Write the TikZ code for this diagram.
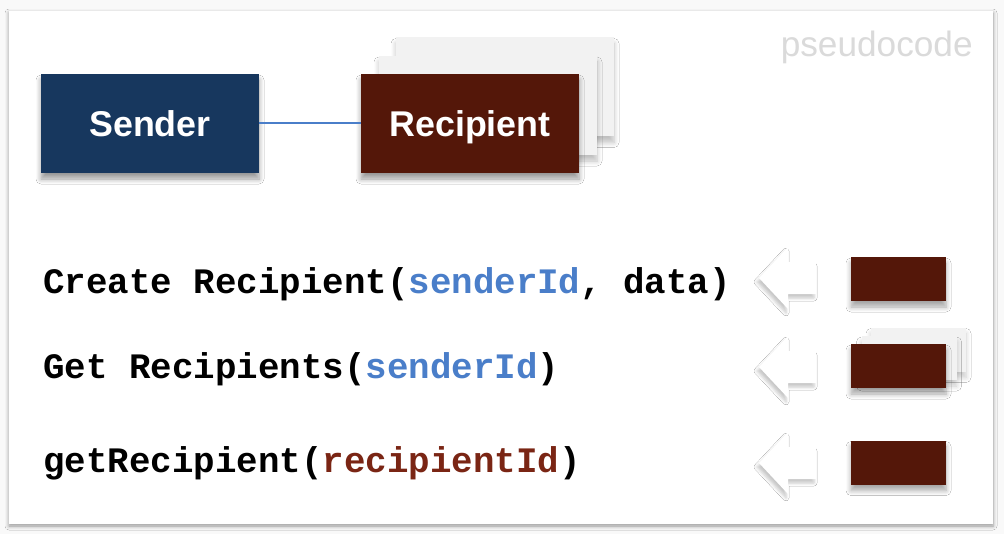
\documentclass[tikz,border=0pt]{standalone}
\usepackage{fontspec}
\setmainfont{Liberation Sans}
\newfontfamily\codefont{Liberation Mono}
\usetikzlibrary{shadows,shadows.blur}

\definecolor{senderblue}{HTML}{17375E}
\definecolor{recipbrown}{HTML}{541709}
\definecolor{idblue}{HTML}{4A7EC9}
\definecolor{idbrown}{HTML}{7A2514}
\definecolor{cardgray}{HTML}{F2F2F2}
\definecolor{notegray}{HTML}{DADADA}

\tikzset{
  softshadow/.style={blur shadow={shadow xshift=0pt, shadow yshift=-3pt,
    shadow blur radius=2.5pt, shadow blur steps=6, shadow opacity=#1}},
  entity/.style={minimum width=109pt, minimum height=49.5pt, inner sep=0pt,
    text height=13.5pt, text depth=0pt,
    text=white, font=\fontsize{17.9}{20}\selectfont\bfseries, softshadow=40},
  card/.style={minimum width=109pt, minimum height=49.5pt, inner sep=0pt, fill=cardgray,
    softshadow=25},
  minibox/.style={minimum width=47.5pt, minimum height=22pt, inner sep=0pt, fill=recipbrown,
    softshadow=35},
  minicard/.style={minimum width=47.5pt, minimum height=22pt, inner sep=0pt, fill=cardgray,
    softshadow=20},
  codeline/.style={anchor=base west, inner sep=0pt, font=\fontsize{17.9}{20}\selectfont\codefont\bfseries}
}

\begin{document}
\begin{tikzpicture}[x=0.5pt, y=-0.5pt]
  % Fondo y marco
  \useasboundingbox (0,0) rectangle (1004,534);
  \fill[gray!5] (0,0) rectangle (1004,534);
  \fill[white, blur shadow={shadow xshift=0pt, shadow yshift=-1pt, shadow blur radius=2pt,
    shadow blur steps=5, shadow opacity=40}] (9,11) rectangle (993,524);

  % Etiqueta
  \node[anchor=base east, inner sep=0pt, text=notegray, font=\fontsize{17.6}{20}\selectfont] (note) at (973,57) {pseudocode};

  % Entidades
  \node[entity, fill=senderblue] (sender) at (150,123.5) {Sender};
  \node[card] (reccardb) at (505,87) {};
  \node[card] (reccarda) at (488,105.5) {};
  \node[entity, fill=recipbrown] (recipient) at (470,123.5) {Recipient};
  \draw[idblue, line width=1pt] (sender.east) -- (recipient.west);

  % Operaciones
  \node[codeline] (create) at (43,293) {Create Recipient(\textcolor{idblue}{senderId}, data)};
  \node[codeline] (getall) at (43,378) {Get Recipients(\textcolor{idblue}{senderId})};
  \node[codeline] (getone) at (43,472) {getRecipient(\textcolor{idbrown}{recipientId})};

  % Flechas
  \foreach \y in {278,367,463}
    \fill[white, blur shadow={shadow xshift=-1pt, shadow yshift=-2pt, shadow blur radius=1.5pt,
      shadow blur steps=4, shadow opacity=22}]
      (759,\y) -- (788,\y-31) -- (788,\y-16) -- (816,\y-16) -- (816,\y+16) -- (788,\y+16) -- (788,\y+31) -- cycle;

  % Resultados
  \node[minibox] (createres) at (898.5,279) {};
  \node[minicard] (getcardb) at (918.5,349.5) {};
  \node[minicard] (getcarda) at (909,358) {};
  \node[minibox] (getallres) at (898.5,366) {};
  \node[minibox] (getoneres) at (898.5,462.5) {};
\end{tikzpicture}
\end{document}
